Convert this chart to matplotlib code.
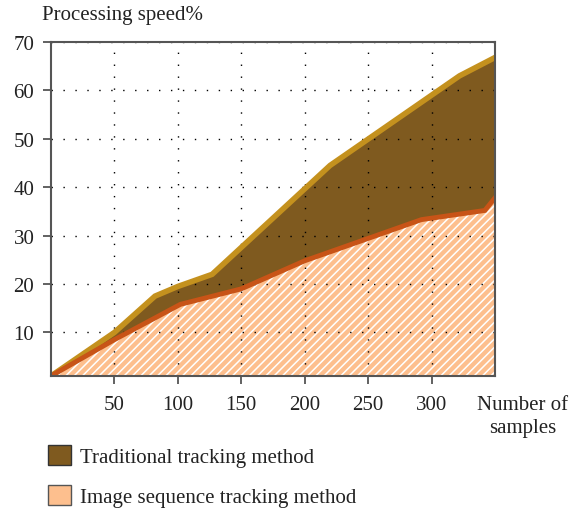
import matplotlib.pyplot as plt
from matplotlib.patches import Patch

# Values.
trad_x = [0, 50, 82, 100, 127, 220, 322, 350]
trad_y = [1, 10, 17.5, 19.5, 22, 44.5, 63, 66.8]
img_x = [0, 50, 102, 150, 200, 292, 342, 350]
img_y = [1, 8.5, 15.8, 19, 24.8, 33.3, 35.2, 37.8]
xticks = [50, 100, 150, 200, 250, 300]
yticks = [10, 20, 30, 40, 50, 60, 70]

plt.rcParams['font.family'] = 'Liberation Serif'
plt.rcParams['font.size'] = 15
plt.rcParams['hatch.linewidth'] = 1.1

brown = '#7f5a1f'
gold = '#c4911e'
red = '#c85417'
peach = '#fdbf8e'
spine = '#555555'
txt = '#222222'

fig = plt.figure(figsize=(5.84, 5.10), dpi=100)
ax = fig.add_axes([0.0873, 0.2608, 0.7603, 0.6549])

ax.fill_between(trad_x, 1, trad_y, color=brown, lw=0, zorder=1)
ax.fill_between(img_x, 1, img_y, facecolor=peach, edgecolor='white',
                hatch='////', lw=0, zorder=2)
ax.plot(trad_x, trad_y, color=gold, lw=4.0, solid_joinstyle='miter', zorder=4)
ax.plot(img_x, img_y, color=red, lw=3.5, solid_joinstyle='miter', zorder=4)

ax.set_xlim(0, 350)
ax.set_ylim(1, 70)
ax.set_xticks(xticks)
ax.set_yticks(yticks)
ax.grid(True, color='black', lw=1.0, linestyle=(0, (1, 7.6)), zorder=3)
ax.set_axisbelow(False)
for s in ax.spines.values():
    s.set_color(spine)
    s.set_linewidth(1.5)
    s.set_zorder(5)
ax.tick_params(direction='out', length=6, width=1.3, color=spine,
               labelcolor=txt, labelsize=15)
ax.tick_params(axis='x', pad=8)
ax.tick_params(axis='y', pad=6)

fig.text(42 / 584, 1 - 6 / 510, 'Processing speed%', ha='left', va='top',
         fontsize=15, color=txt)
ax.text(372, -0.057, 'Number of\nsamples', transform=ax.get_xaxis_transform(),
        ha='center', va='top', fontsize=15, color=txt, linespacing=1.3)

handles = [Patch(facecolor=brown, edgecolor='#333333', lw=1.0),
           Patch(facecolor=peach, edgecolor='#555555', lw=1.0)]
fig.legend(handles, ['Traditional tracking method', 'Image sequence tracking method'],
           loc='upper left', bbox_to_anchor=(44 / 584, 1 - 442 / 510),
           frameon=False, handlelength=1.1, handleheight=1.1,
           handletextpad=0.45, labelspacing=0.85, fontsize=15,
           labelcolor=txt, borderaxespad=0, borderpad=0.2)

fig.savefig('out.png')
